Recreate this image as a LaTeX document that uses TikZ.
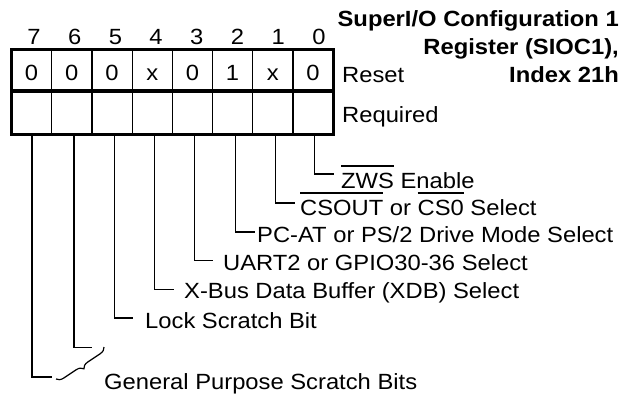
\documentclass[tikz,border=0pt]{standalone}
\usepackage{fontspec}
\setmainfont{Liberation Sans}[FakeStretch=1.08]
\usetikzlibrary{decorations.pathreplacing}
\newcommand\ovl[1]{\setbox0\hbox{#1}\rlap{\rule[21.5pt]{\wd0}{1.2pt}}\box0\relax}
\begin{document}
\begin{tikzpicture}[x=1pt,y=-1pt,
  txt/.style={font=\fontsize{22pt}{26pt}\selectfont, inner sep=0pt},
  ttl/.style={font=\fontsize{22pt}{26pt}\selectfont\bfseries, inner sep=0pt},
  leg/.style={line width=1.2pt},
  frame/.style={line width=3pt},
  divline/.style={line width=1.2pt}]
\useasboundingbox (0,0) rectangle (632,396);
% title
\node[ttl, anchor=base east] (t1) at (619,27) {SuperI/O Configuration 1};
\node[ttl, anchor=base east] (t2) at (619,55) {Register (SIOC1),};
\node[ttl, anchor=base east] (t3) at (619,83) {Index 21h};
% bit numbers
\foreach \b [count=\i from 0] in {7,6,5,4,3,2,1,0}
  \node[txt, anchor=base] (n\b) at ({34+40.7*\i},45) {\b};
% register grid
\foreach \i in {1,...,7}
  \draw[divline] ({11.5+40.2*\i},50) -- ({11.5+40.2*\i},134);
\draw[frame] (11.5,91) -- (333.1,91);
\draw[frame] (11.5,50) rectangle (333.1,134);
\foreach \v [count=\i from 0] in {0,0,0,x,0,1,x,0}
  \node[txt, anchor=base] (v\i) at ({31.6+40.2*\i},81) {\v};
\node[txt, anchor=base west] (reset) at (342,82) {Reset};
\node[txt, anchor=base west] (req) at (342,122) {Required};
% connector start points on the box bottom
\coordinate (s0) at (314.3,134);
\coordinate (s1) at (275.3,134);
\coordinate (s2) at (235.7,134);
\coordinate (s3) at (194.3,134);
\coordinate (s4) at (154.3,134);
\coordinate (s5) at (114.3,134);
\coordinate (s6) at (74,134);
\coordinate (s7) at (32,134);
% connector end points
\coordinate (e0) at (334,174);
\coordinate (e1) at (295,203);
\coordinate (e2) at (255,232);
\coordinate (e3) at (213,260.5);
\coordinate (e4) at (174,289.5);
\coordinate (e5) at (133,318);
\coordinate (e6) at (92,347.5);
\coordinate (e7) at (52,377);
% labels
\node[txt, anchor=base west] (l0) at (341,188) {\ovl{ZWS} Enable};
\node[txt, anchor=base west] (l1) at (300,215) {\ovl{CSOUT} or \ovl{CS0} Select};
\node[txt, anchor=base west] (l2) at (257,242.5) {PC-AT or PS/2 Drive Mode Select};
\node[txt, anchor=base west] (l3) at (223,270) {UART2 or GPIO30-36 Select};
\node[txt, anchor=base west] (l4) at (184,298) {X-Bus Data Buffer (XDB) Select};
\node[txt, anchor=base west] (l5) at (145,328) {Lock Scratch Bit};
\node[txt, anchor=base west] (l6) at (104,389) {General Purpose Scratch Bits};
% connectors
\foreach \k in {0,...,7}
  \draw[leg] (s\k) |- (e\k);
% brace
\coordinate (bt) at (104,347);
\coordinate (bb) at (56,379);
\draw[leg, decorate, decoration={brace, amplitude=7pt}] (bt) -- (bb);
\end{tikzpicture}
\end{document}
